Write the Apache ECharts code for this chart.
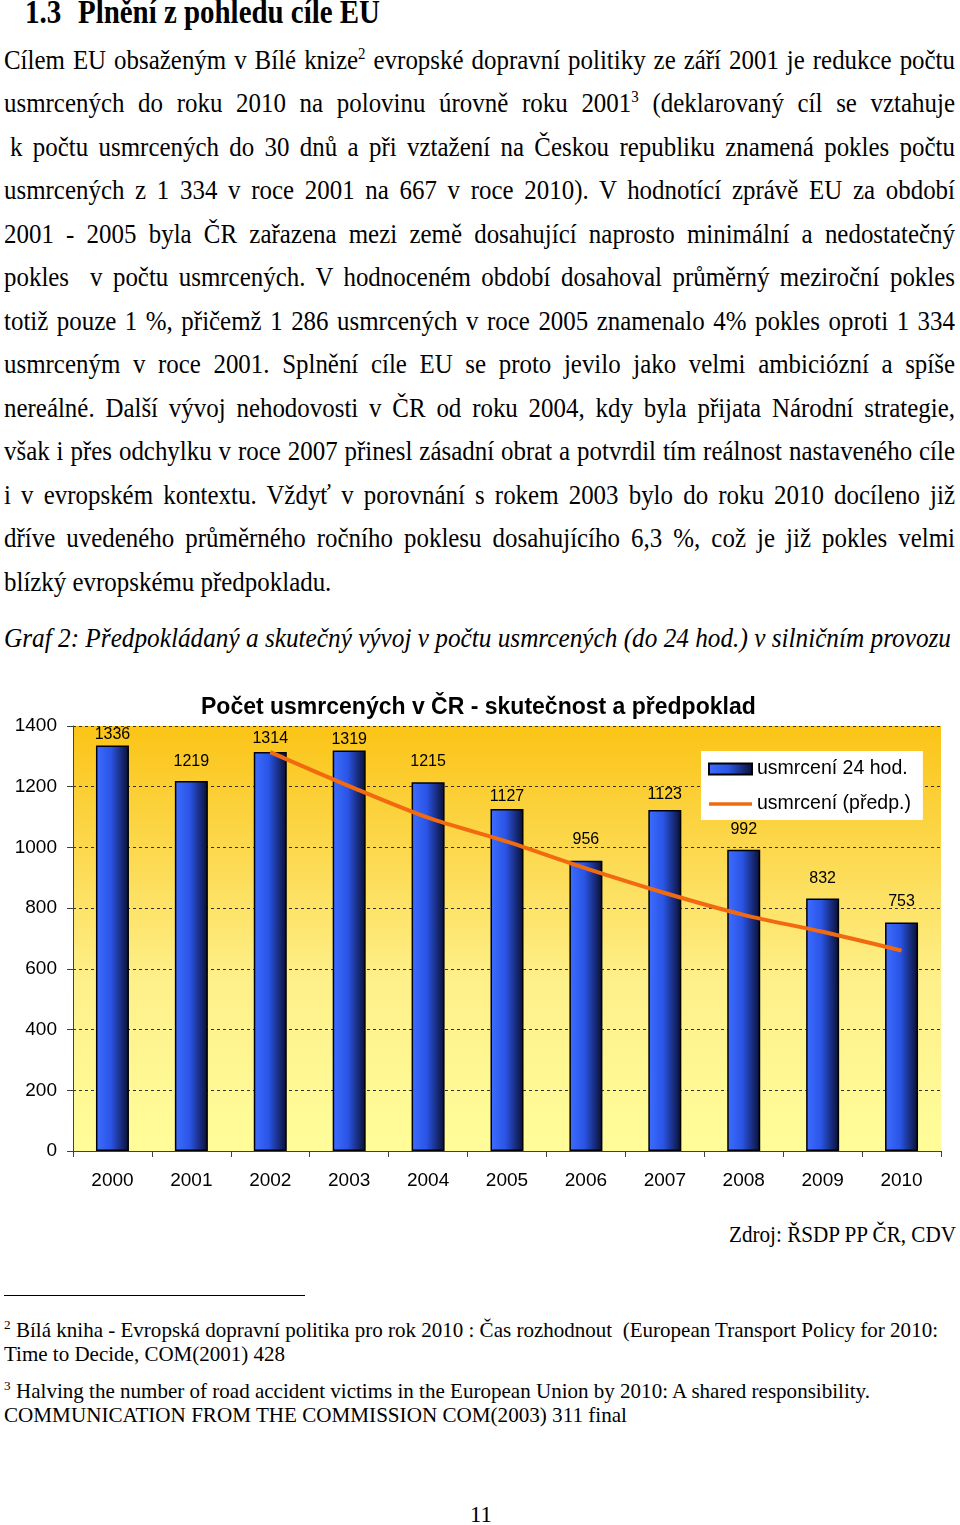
<!DOCTYPE html>
<html><head><meta charset="utf-8">
<script src="https://cdn.jsdelivr.net/npm/echarts/dist/echarts.min.js"></script>
<style>
html,body{margin:0;padding:0;background:#fff;}
body{width:960px;height:1525px;position:relative;overflow:hidden;font-family:"Liberation Serif","Times New Roman",serif;color:#000;}
.t{position:absolute;white-space:pre;line-height:1;transform-origin:0 0;}
sup{font-size:0.6em;vertical-align:0.62em;line-height:0;}
#chart{position:absolute;left:0;top:680px;width:960px;height:530px;}
#rule{position:absolute;left:4px;top:1295px;width:301px;height:0;border-top:1.5px solid #000;}
</style></head>
<body>
<div id="chart"></div>
<div id="rule"></div>
<script>
// ---- chart data ----
const years = ['2000','2001','2002','2003','2004','2005','2006','2007','2008','2009','2010'];
const killed24h = [1336,1219,1314,1319,1215,1127,956,1123,992,832,753];
const predicted = [null,null,1314,1202,1098,1019,931,850,778,722,660];
const seriesNames = ['usmrcení 24 hod.','usmrcení (předp.)'];
const chartTitle = 'Počet usmrcených v ČR - skutečnost a předpoklad';
// label gaps above bars (style only)
const labelGap = [3,11,6,3,13,4,13,7,12,12,13];

// ---- page text ----
const BODY_FS = 28, BODY_SX = 0.89;
const bodyLines = [
 'Cílem EU obsaženým v Bílé knize<sup>2</sup> evropské dopravní politiky ze září 2001 je redukce počtu',
 'usmrcených do roku 2010 na polovinu úrovně roku 2001<sup>3</sup> (deklarovaný cíl se vztahuje',
 'k počtu usmrcených do 30 dnů a při vztažení na Českou republiku znamená pokles počtu',
 'usmrcených z 1 334 v roce 2001 na 667 v roce 2010). V hodnotící zprávě EU za období',
 '2001 - 2005 byla ČR zařazena mezi země dosahující naprosto minimální a nedostatečný',
 'pokles  v počtu usmrcených. V hodnoceném období dosahoval průměrný meziroční pokles',
 'totiž pouze 1 %, přičemž 1 286 usmrcených v roce 2005 znamenalo 4% pokles oproti 1 334',
 'usmrceným v roce 2001. Splnění cíle EU se proto jevilo jako velmi ambiciózní a spíše',
 'nereálné. Další vývoj nehodovosti v ČR od roku 2004, kdy byla přijata Národní strategie,',
 'však i přes odchylku v roce 2007 přinesl zásadní obrat a potvrdil tím reálnost nastaveného cíle',
 'i v evropském kontextu. Vždyť v porovnání s rokem 2003 bylo do roku 2010 docíleno již',
 'dříve uvedeného průměrného ročního poklesu dosahujícího 6,3 %, což je již pokles velmi',
 'blízký evropskému předpokladu.'
];
const items = [];
items.push({h:'1.3', x:25, b:24, fs:33, sx:0.88, mode:'none', st:'font-weight:bold'});
items.push({h:'Plnění z pohledu cíle EU', x:78, b:24, fs:33, w:302, mode:'fit', st:'font-weight:bold'});
bodyLines.forEach((h,i)=>{
  const last = i===bodyLines.length-1;
  const x = i===2 ? 10 : 4;
  items.push({h, x, b:69+43.5*i, fs:BODY_FS, sx:BODY_SX, w:955-x, mode: last?'none':'justify'});
});
items.push({h:'Graf 2: Předpokládaný a skutečný vývoj v počtu usmrcených (do 24 hod.) v silničním provozu', x:4, b:647, fs:28, w:947, mode:'fit', st:'font-style:italic'});
items.push({h:'Zdroj: ŘSDP PP ČR, CDV', x:729, b:1242, fs:23, w:227, mode:'fit'});
items.push({h:'<sup>2</sup>', x:4, b:1337, fs:22, mode:'none'});
items.push({h:'Bílá kniha - Evropská dopravní politika pro rok 2010 : Čas rozhodnout  (European Transport Policy for 2010:', x:16, b:1337, fs:22, w:922, mode:'fit'});
items.push({h:'Time to Decide, COM(2001) 428', x:4, b:1361, fs:22, w:281, mode:'fit'});
items.push({h:'<sup>3</sup>', x:4, b:1398, fs:22, mode:'none'});
items.push({h:'Halving the number of road accident victims in the European Union by 2010: A shared responsibility.', x:16, b:1398, fs:22, w:854, mode:'fit'});
items.push({h:'COMMUNICATION FROM THE COMMISSION COM(2003) 311 final', x:4, b:1422, fs:22, w:623, mode:'fit'});
items.push({h:'11', x:470, b:1522, fs:23, w:22, mode:'fit'});

items.forEach(it=>{
  const d = document.createElement('div');
  d.className='t';
  d.innerHTML = it.h;
  d.style.cssText += (it.st||'') + ';font-size:'+it.fs+'px;left:'+it.x+'px;top:'+(it.b-0.8375*it.fs)+'px;';
  document.body.appendChild(d);
  const nat = d.getBoundingClientRect().width;
  if(it.mode==='fit'){
    d.style.transform='scaleX('+(it.w/nat)+')';
  } else if(it.mode==='justify'){
    const n = (d.textContent.match(/ /g)||[]).length;
    const ws = (it.w/it.sx - nat)/n;
    d.style.wordSpacing = ws+'px';
    d.style.transform='scaleX('+it.sx+')';
  } else if(it.sx){
    d.style.transform='scaleX('+it.sx+')';
  }
});

// ---- chart ----
const chart = echarts.init(document.getElementById('chart'), null, {renderer:'canvas'});
const FF = '"Liberation Sans", Arial, sans-serif';
const LINE_COLOR = '#F26A10';
chart.setOption({
  animation:false,
  backgroundColor:'transparent',
  title:{text:chartTitle, left:201, top:16, padding:0,
    textStyle:{fontFamily:FF, fontWeight:'bold', fontSize:23, color:'#000'}},
  legend:{orient:'vertical', left:701, top:71, backgroundColor:'#fff',
    padding:[8,12,6,7], itemWidth:43, itemHeight:11, itemGap:15,
    textStyle:{fontFamily:FF, fontSize:19.5, color:'#000'},
    data:[{name:seriesNames[0], icon:'rect'},
          {name:seriesNames[1], icon:'path://M0,0 L50,0 L50,4 L0,4 Z', itemStyle:{color:LINE_COLOR}}]},
  grid:{left:73, right:19, top:46, bottom:59, show:true, borderWidth:0,
    backgroundColor:new echarts.graphic.LinearGradient(0,0,0,1,[
      {offset:0,color:'#FBC417'},{offset:0.3,color:'#FCD94F'},
      {offset:0.6,color:'#FEF08A'},{offset:1,color:'#FFFD9A'}])},
  xAxis:{type:'category', data:years, boundaryGap:true,
    axisLine:{show:true, lineStyle:{color:'#404040', width:1}},
    axisTick:{show:true, length:6, alignWithLabel:false, lineStyle:{color:'#404040'}},
    axisLabel:{fontFamily:FF, fontSize:19, color:'#000', margin:20},
    splitLine:{show:false}},
  yAxis:{type:'value', min:0, max:1400, interval:200,
    axisLine:{show:true, lineStyle:{color:'#404040', width:1}},
    axisTick:{show:true, length:6, lineStyle:{color:'#404040'}},
    axisLabel:{fontFamily:FF, fontSize:19, color:'#000', margin:16, formatter:v=>String(v)},
    splitLine:{show:true, lineStyle:{type:[3,3], color:'#333', width:1}}},
  series:[
    {name:seriesNames[0], type:'bar', barWidth:33,
      data:killed24h.map((v,i)=>({value:v, label:{distance:labelGap[i]}})),
      itemStyle:{color:new echarts.graphic.LinearGradient(0,0,1,0,[
        {offset:0,color:'#3D6DFF'},{offset:0.45,color:'#2A55E6'},{offset:1,color:'#0A0E30'}]),
        borderColor:'#000', borderWidth:1.5},
      label:{show:true, position:'top', distance:3, fontFamily:FF, fontSize:16, color:'#000'}},
    {name:seriesNames[1], type:'line', data:predicted, symbol:'none', showSymbol:false, smooth:0.3,
      z:5, lineStyle:{color:LINE_COLOR, width:4}, itemStyle:{color:LINE_COLOR}}
  ]
});
</script>
</body></html>
